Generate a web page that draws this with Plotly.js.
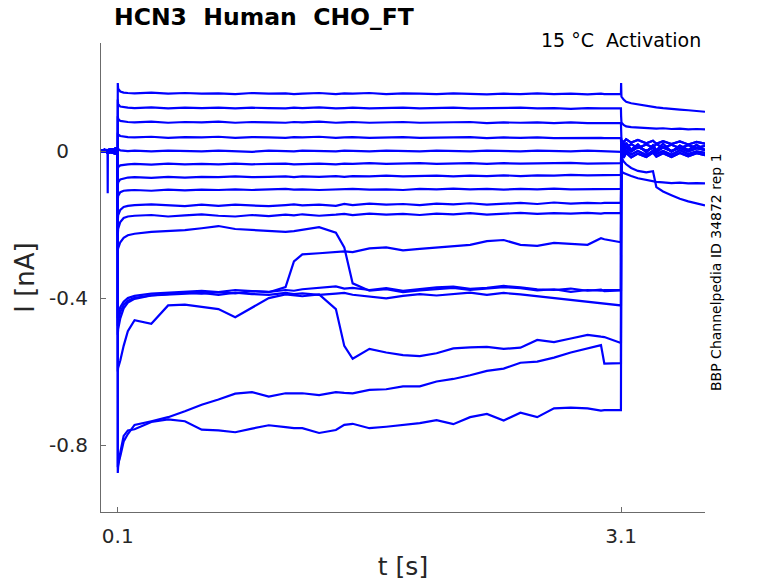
<!DOCTYPE html>
<html>
<head>
<meta charset="utf-8">
<script src="https://cdn.plot.ly/plotly-3.0.1.min.js"></script>
<style>html,body{margin:0;padding:0;background:#fff;}#chart{width:778px;height:583px;}</style>
</head>
<body>
<div id="chart"></div>
<script>
// time grids (s)
const tPre = [0, 0.006, 0.012, 0.018, 0.024, 0.03, 0.036, 0.039, 0.04, 0.041, 0.046, 0.052, 0.058, 0.064, 0.07, 0.076, 0.082, 0.088, 0.094, 0.098, 0.0995];
const tStep = [0.1, 0.102, 0.115, 0.135, 0.16, 0.2, 0.3, 0.4, 0.5, 0.6, 0.7, 0.8, 0.9, 1.0, 1.1, 1.15, 1.2, 1.3, 1.4, 1.45, 1.5, 1.6, 1.7, 1.8, 1.9, 2.0, 2.1, 2.2, 2.3, 2.4, 2.5, 2.6, 2.7, 2.8, 2.9, 2.98, 3.0, 3.099];
const tTail = [3.1, 3.102, 3.115, 3.13, 3.16, 3.2, 3.25, 3.29, 3.31, 3.35, 3.4, 3.45, 3.5, 3.55, 3.6];

// holding segment (nA)
const preA = [0.003, -0.004, 0.004, -0.003, 0.005, -0.004, 0.003, -0.002, 0.001, -0.003, 0.004, -0.005, 0.005, -0.004, 0.006, -0.006, 0.007, -0.007, 0.008, -0.006, 0.004];
const preB = [-0.003, 0.004, -0.004, 0.005, -0.003, 0.004, -0.005, 0.002, -0.001, 0.003, -0.005, 0.006, -0.004, 0.006, -0.007, 0.007, -0.008, 0.009, -0.008, 0.007, -0.004];
const preSpike = [0.001, -0.003, 0.003, -0.002, 0.004, -0.003, 0.002, 0.0, -0.115, 0.002, -0.004, 0.005, -0.006, 0.005, -0.007, 0.008, -0.009, 0.01, -0.01, 0.008, 0.0];

// step segments (nA)
const step01 = [0.185,0.170,0.162,0.159,0.158, 0.157,0.159,0.156,0.158,0.156, 0.157,0.155,0.158,0.156,0.157, 0.155,0.156,0.158,0.155,0.157, 0.156,0.158,0.155,0.157,0.156, 0.155,0.157,0.156,0.154,0.156, 0.155,0.157,0.155,0.156,0.154, 0.156,0.155,0.155];
const step02 = [0.140,0.128,0.121,0.119,0.118, 0.117,0.119,0.116,0.118,0.117, 0.118,0.116,0.118,0.117,0.116, 0.118,0.117,0.119,0.116,0.117, 0.118,0.116,0.117,0.118,0.116, 0.117,0.118,0.116,0.117,0.116, 0.118,0.116,0.117,0.115,0.117, 0.116,0.116,0.116];
const step03 = [0.095,0.088,0.082,0.080,0.079, 0.078,0.080,0.077,0.079,0.078, 0.080,0.077,0.079,0.078,0.077, 0.079,0.078,0.080,0.077,0.078, 0.079,0.077,0.078,0.079,0.077, 0.078,0.077,0.079,0.076,0.078, 0.077,0.078,0.076,0.078,0.076, 0.077,0.076,0.076];
const step04 = [0.050,0.045,0.041,0.039,0.038, 0.037,0.039,0.036,0.038,0.037, 0.039,0.036,0.038,0.037,0.036, 0.038,0.037,0.039,0.036,0.037, 0.038,0.036,0.037,0.038,0.036, 0.037,0.036,0.038,0.035,0.037, 0.036,0.037,0.035,0.036,0.035, 0.036,0.035,0.035];
const step05 = [0.010,0.006,0.002,0.001,0.000, 0.001,-0.001,0.001,0.000,-0.001, 0.001,0.000,-0.002,0.001,0.000, -0.001,0.001,0.000,-0.001,0.001, 0.000,-0.001,0.001,0.000,-0.001, 0.001,0.000,-0.001,0.001,0.000, -0.001,0.001,0.000,-0.001,0.001, 0.000,0.000,0.000];
const step06 = [-0.050,-0.044,-0.039,-0.037,-0.036, -0.035,-0.037,-0.034,-0.036,-0.035, -0.036,-0.034,-0.036,-0.035,-0.034, -0.036,-0.035,-0.034,-0.036,-0.034, -0.035,-0.033,-0.035,-0.034,-0.033, -0.035,-0.034,-0.033,-0.035,-0.033, -0.034,-0.033,-0.034,-0.032,-0.034, -0.033,-0.033,-0.033];
const step07 = [-0.095,-0.085,-0.077,-0.074,-0.072, -0.071,-0.073,-0.070,-0.072,-0.070, -0.071,-0.069,-0.071,-0.070,-0.069, -0.071,-0.069,-0.070,-0.068,-0.070, -0.068,-0.069,-0.067,-0.069,-0.068, -0.067,-0.069,-0.067,-0.068,-0.066, -0.068,-0.066,-0.067,-0.065,-0.066, -0.065,-0.065,-0.065];
const step08 = [-0.135,-0.122,-0.112,-0.108,-0.107, -0.106,-0.108,-0.105,-0.107,-0.105, -0.106,-0.104,-0.106,-0.105,-0.103, -0.105,-0.104,-0.106,-0.104,-0.105, -0.103,-0.105,-0.104,-0.106,-0.103, -0.104,-0.102,-0.104,-0.103,-0.105, -0.103,-0.104,-0.102,-0.104,-0.103, -0.103,-0.103,-0.103];
const step09 = [-0.190,-0.175,-0.160,-0.152,-0.149, -0.147,-0.145,-0.148,-0.150,-0.146, -0.149,-0.146,-0.148,-0.150,-0.147, -0.145,-0.148,-0.146,-0.149,-0.144, -0.147,-0.143,-0.146,-0.144,-0.147, -0.143,-0.145,-0.142,-0.146,-0.143, -0.141,-0.144,-0.140,-0.143,-0.141, -0.142,-0.141,-0.141];
const step10 = [-0.230,-0.212,-0.193,-0.182,-0.178, -0.176,-0.174,-0.178,-0.175,-0.172, -0.176,-0.178,-0.174,-0.177,-0.173, -0.175,-0.172,-0.176,-0.173,-0.171, -0.174,-0.170,-0.173,-0.171,-0.174, -0.170,-0.172,-0.169,-0.173,-0.170, -0.168,-0.171,-0.169,-0.170,-0.168, -0.170,-0.169,-0.169];
const step11 = [-0.270,-0.265,-0.248,-0.236,-0.229, -0.225,-0.220,-0.218,-0.215,-0.210, -0.204,-0.212,-0.215,-0.218,-0.220, -0.218,-0.214,-0.207,-0.222,-0.262, -0.360,-0.380,-0.376,-0.384,-0.379, -0.375,-0.372,-0.378,-0.374,-0.370, -0.373,-0.379,-0.376,-0.383,-0.378, -0.380,-0.378,-0.378];
const step12 = [-0.455,-0.445,-0.425,-0.410,-0.400, -0.394,-0.388,-0.385,-0.382,-0.380, -0.384,-0.378,-0.381,-0.383,-0.378, -0.380,-0.376,-0.372,-0.368,-0.374, -0.372,-0.378,-0.373,-0.380,-0.375, -0.371,-0.369,-0.375,-0.372,-0.367, -0.371,-0.376,-0.378,-0.374,-0.380, -0.377,-0.381,-0.379];
const step13 = [-0.475,-0.462,-0.438,-0.418,-0.407, -0.399,-0.393,-0.390,-0.388,-0.386, -0.391,-0.385,-0.389,-0.391,-0.386, -0.389,-0.387,-0.391,-0.388,-0.386, -0.391,-0.396,-0.401,-0.394,-0.389, -0.393,-0.388,-0.385,-0.391,-0.386, -0.390,-0.395,-0.401,-0.406,-0.411, -0.414,-0.417,-0.420];
const step14 = [-0.500,-0.485,-0.455,-0.428,-0.412, -0.402,-0.393,-0.388,-0.385,-0.388, -0.384,-0.387,-0.381,-0.384,-0.370, -0.300,-0.281,-0.278,-0.276,-0.273, -0.275,-0.265,-0.262,-0.270,-0.266, -0.262,-0.260,-0.255,-0.245,-0.242, -0.255,-0.258,-0.250,-0.252,-0.255, -0.237,-0.240,-0.248];
const step15 = [-0.600,-0.590,-0.570,-0.530,-0.490, -0.460,-0.470,-0.420,-0.418,-0.425, -0.430,-0.452,-0.425,-0.400,-0.390, -0.392,-0.395,-0.390,-0.430,-0.530, -0.565,-0.538,-0.548,-0.555,-0.558, -0.550,-0.537,-0.534,-0.533,-0.538, -0.535,-0.514,-0.520,-0.510,-0.500, -0.505,-0.506,-0.522];
const step16 = [-0.860,-0.850,-0.830,-0.790,-0.770, -0.745,-0.735,-0.724,-0.708,-0.690, -0.676,-0.660,-0.656,-0.668,-0.659, -0.660,-0.659,-0.664,-0.656,-0.658, -0.659,-0.650,-0.648,-0.640,-0.640, -0.627,-0.620,-0.610,-0.598,-0.592, -0.576,-0.573,-0.562,-0.548,-0.536, -0.528,-0.578,-0.577];
const step17 = [-0.876,-0.860,-0.820,-0.775,-0.760, -0.757,-0.737,-0.730,-0.735,-0.758, -0.760,-0.765,-0.755,-0.746,-0.751, -0.754,-0.754,-0.767,-0.759,-0.745, -0.742,-0.754,-0.750,-0.746,-0.740, -0.732,-0.743,-0.724,-0.715,-0.733, -0.712,-0.724,-0.700,-0.698,-0.700, -0.706,-0.705,-0.705];

// tail segments (nA)
const tailTop = [0.185, 0.148, 0.140, 0.134, 0.130, 0.127, 0.122, 0.121, 0.119, 0.117, 0.116, 0.113, 0.111, 0.109, 0.107];
const tailSecond = [0.095, 0.078, 0.071, 0.067, 0.065, 0.064, 0.062, 0.063, 0.061, 0.062, 0.060, 0.061, 0.059, 0.060, 0.059];
const tailKink = [-0.010, -0.018, -0.028, -0.036, -0.046, -0.054, -0.058, -0.055, -0.098, -0.110, -0.120, -0.130, -0.137, -0.142, -0.148];
const tailLow = [-0.050, -0.055, -0.060, -0.063, -0.068, -0.074, -0.078, -0.082, -0.084, -0.085, -0.087, -0.086, -0.088, -0.087, -0.088];
const tailC1 = [0.036, 0.030, 0.024, 0.032, 0.023, 0.030, 0.021, 0.028, 0.020, 0.027, 0.019, 0.026, 0.018, 0.025, 0.020];
const tailC2 = [0.022, 0.010, 0.021, 0.009, 0.019, 0.008, 0.018, 0.010, 0.019, 0.009, 0.017, 0.008, 0.016, 0.009, 0.014];
const tailC3 = [-0.002, 0.011, 0.000, 0.010, -0.001, 0.011, 0.001, 0.009, -0.002, 0.010, 0.000, 0.009, -0.001, 0.008, 0.003];
const tailC4 = [-0.012, 0.001, -0.010, 0.002, -0.009, 0.000, -0.011, 0.001, -0.008, 0.000, -0.010, 0.002, -0.008, -0.001, -0.005];
const tailC5 = [-0.022, -0.006, -0.018, -0.005, -0.017, -0.007, -0.016, -0.004, -0.015, -0.006, -0.016, -0.005, -0.014, -0.006, -0.011];
const tailC6 = [0.012, 0.027, 0.002, 0.022, 0.004, 0.018, -0.004, 0.016, 0.002, 0.020, -0.002, 0.015, 0.003, 0.017, 0.002];

// tick labels
const xTickVals = [0.1, 3.1];
const xTickText = ['0.1', '3.1'];
const yTickVals = [-0.8, -0.4, 0];
const yTickText = ['-0.8', '-0.4', '0\u00a0\u00a0\u00a0'];

const sweeps = [
  [preA, step01, tailTop], [preB, step02, tailSecond], [preA, step03, tailC1],
  [preB, step04, tailC2], [preSpike, step05, tailC3], [preA, step06, tailC4],
  [preB, step07, tailKink], [preA, step08, tailLow], [preB, step09, tailC5],
  [preA, step10, tailC6], [preB, step11, tailC1], [preA, step12, tailC2],
  [preB, step13, tailC3], [preA, step14, tailC4], [preB, step15, tailC5],
  [preA, step16, tailC6], [preB, step17, tailC3]
];
const xAll = tPre.concat(tStep, tTail);
const data = sweeps.map(s => ({
  type: 'scatter', mode: 'lines',
  x: xAll, y: s[0].concat(s[1], s[2]),
  line: {color: '#0000ff', width: 2.2},
  hoverinfo: 'skip', showlegend: false
}));

const font = 'DejaVu Sans, Liberation Sans, sans-serif';
const layout = {
  width: 778, height: 583,
  margin: {l: 101, r: 73, t: 43, b: 71},
  paper_bgcolor: '#fff', plot_bgcolor: '#fff',
  showlegend: false,
  title: {
    text: '<b>HCN3\u00a0\u00a0Human\u00a0\u00a0CHO_FT</b>',
    font: {family: font, size: 23.5, color: '#000'},
    xref: 'container', yref: 'container',
    x: 114 / 778, xanchor: 'left', y: 1 - 17 / 583, yanchor: 'middle'
  },
  xaxis: {
    range: [0, 3.6], showgrid: false, zeroline: false,
    showline: true, linecolor: '#6b6b6b', linewidth: 1,
    ticks: 'inside', ticklen: 5, tickcolor: '#6b6b6b',
    tickvals: xTickVals, ticktext: xTickText,
    tickfont: {family: font, size: 20, color: '#262626'},
    ticklabelstandoff: 6,
    title: {text: 't [s]', font: {family: font, size: 25, color: '#262626'}, standoff: 10}
  },
  yaxis: {
    range: [-0.982, 0.294], showgrid: false, zeroline: false,
    showline: true, linecolor: '#6b6b6b', linewidth: 1,
    ticks: 'inside', ticklen: 5, tickcolor: '#6b6b6b',
    tickvals: yTickVals, ticktext: yTickText,
    tickfont: {family: font, size: 20, color: '#262626'},
    ticklabelstandoff: 8,
    title: {text: 'I [nA]', font: {family: font, size: 26, color: '#262626'}, standoff: 6}
  },
  annotations: [
    {text: '15 °C\u00a0\u00a0Activation', xref: 'paper', yref: 'paper',
     x: (703 - 101) / 604, xanchor: 'right', y: (512 - 40) / 469, yanchor: 'middle',
     showarrow: false, font: {family: font, size: 19, color: '#000'}},
    {text: 'BBP Channelpedia ID 34872 rep 1', xref: 'paper', yref: 'paper',
     x: (716 - 101) / 604, xanchor: 'center', y: (512 - 272) / 469, yanchor: 'middle',
     textangle: -90, showarrow: false, font: {family: font, size: 14, color: '#000'}}
  ]
};
Plotly.newPlot('chart', data, layout, {displayModeBar: false, staticPlot: true});
</script>
</body>
</html>
